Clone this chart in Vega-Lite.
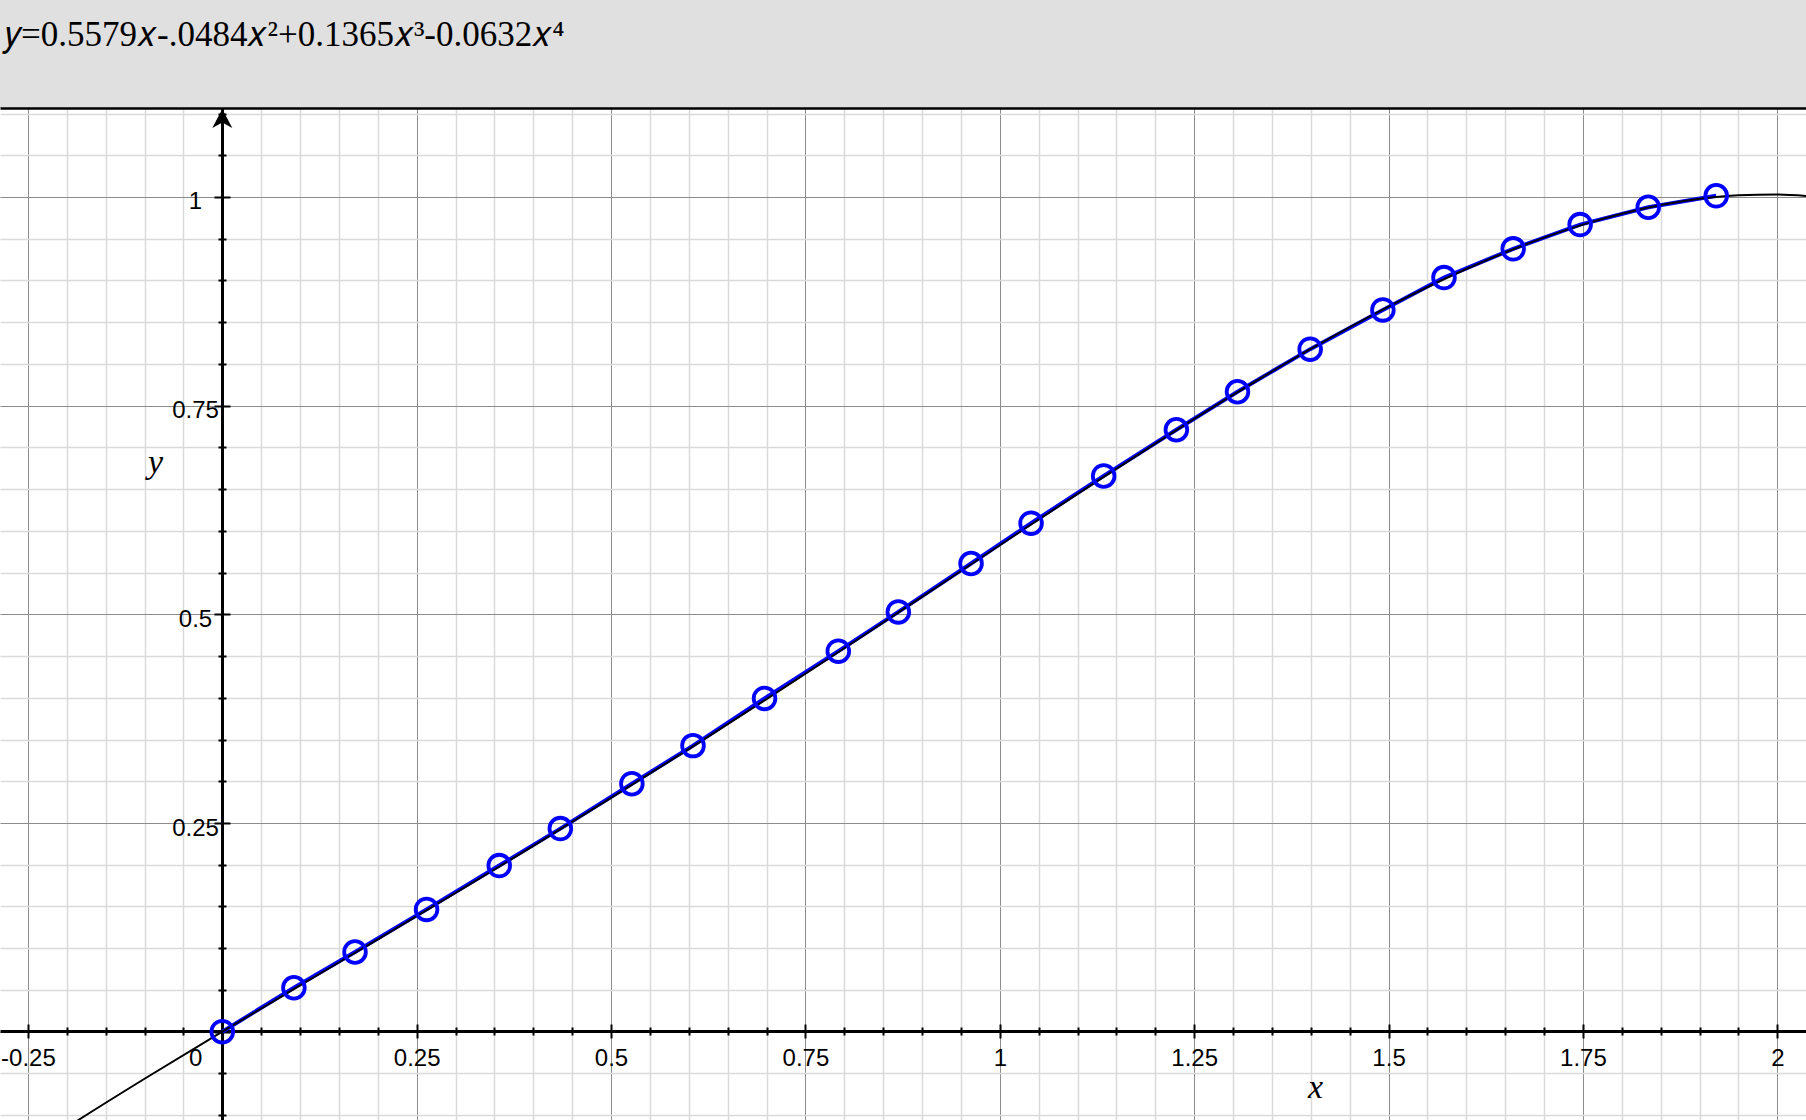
{
  "$schema": "https://vega.github.io/schema/vega-lite/v6.json",
  "width": 1806,
  "height": 1012,
  "autosize": "none",
  "padding": {"left": 0, "right": 0, "top": 108, "bottom": 0},
  "background": "#e0e0e0",
  "config": {"view": {"stroke": null, "fill": "white"}},
  "title": {
    "text": "𝑦=0.5579𝑥-.0484𝑥²+0.1365𝑥³-0.0632𝑥⁴",
    "anchor": "start",
    "frame": "group",
    "font": "Liberation Serif",
    "fontSize": 35,
    "fontWeight": "normal",
    "color": "black",
    "baseline": "alphabetic",
    "offset": 26,
    "dx": 5
  },
  "datasets": {
    "curve": [
      {"x": -0.3, "y": -0.1759}, {"x": -0.2, "y": -0.1147}, {"x": -0.1, "y": -0.0564},
      {"x": 0, "y": 0}, {"x": 0.1, "y": 0.0554}, {"x": 0.2, "y": 0.1106},
      {"x": 0.3, "y": 0.1662}, {"x": 0.4, "y": 0.2225}, {"x": 0.5, "y": 0.28},
      {"x": 0.6, "y": 0.3386}, {"x": 0.7, "y": 0.3985}, {"x": 0.8, "y": 0.4594},
      {"x": 0.9, "y": 0.521}, {"x": 1.0, "y": 0.5828}, {"x": 1.1, "y": 0.6443},
      {"x": 1.2, "y": 0.7046}, {"x": 1.3, "y": 0.7629}, {"x": 1.4, "y": 0.818},
      {"x": 1.5, "y": 0.8687}, {"x": 1.6, "y": 0.9137}, {"x": 1.7, "y": 0.9513},
      {"x": 1.75, "y": 0.9669}, {"x": 1.8, "y": 0.98}, {"x": 1.85, "y": 0.9904},
      {"x": 1.9, "y": 0.9979}, {"x": 1.95, "y": 1.0022}, {"x": 2.0, "y": 1.003},
      {"x": 2.05, "y": 1.0001}
    ],
    "pts": [
      {"x": 0, "y": 0}, {"x": 0.0921, "y": 0.0527}, {"x": 0.1707, "y": 0.0955},
      {"x": 0.2627, "y": 0.1465}, {"x": 0.3562, "y": 0.199}, {"x": 0.4348, "y": 0.2433},
      {"x": 0.5268, "y": 0.2971}, {"x": 0.6054, "y": 0.3427}, {"x": 0.6974, "y": 0.3993},
      {"x": 0.7923, "y": 0.4559}, {"x": 0.8695, "y": 0.5029}, {"x": 0.963, "y": 0.5609},
      {"x": 1.0402, "y": 0.6092}, {"x": 1.1336, "y": 0.6658}, {"x": 1.2271, "y": 0.7211},
      {"x": 1.3057, "y": 0.7667}, {"x": 1.3992, "y": 0.8177}, {"x": 1.4927, "y": 0.8647},
      {"x": 1.5713, "y": 0.9034}, {"x": 1.6603, "y": 0.9379}, {"x": 1.7464, "y": 0.9669},
      {"x": 1.834, "y": 0.9877}, {"x": 1.9214, "y": 1.0014}
    ],
    "arrow": [{"x": 0, "y": 1.0934}]
  },
  "resolve": {"axis": {"x": "independent", "y": "independent"}},
  "layer": [
    {
      "data": {"name": "pts"},
      "mark": {"type": "line", "color": "#0000ff", "strokeWidth": 4, "clip": true},
      "encoding": {
        "x": {
          "field": "x", "type": "quantitative",
          "scale": {"domain": [-0.2859, 2.0369], "nice": false, "zero": false},
          "axis": {
            "orient": "bottom",
            "offset": -89,
            "values": [-0.25,-0.2,-0.15,-0.1,-0.05,0,0.05,0.1,0.15,0.2,0.25,0.3,0.35,0.4,0.45,0.5,0.55,0.6,0.65,0.7,0.75,0.8,0.85,0.9,0.95,1,1.05,1.1,1.15,1.2,1.25,1.3,1.35,1.4,1.45,1.5,1.55,1.6,1.65,1.7,1.75,1.8,1.85,1.9,1.95,2],
            "domain": true, "domainColor": "black", "domainWidth": 3,
            "ticks": true, "tickColor": "black", "tickWidth": 2, "tickSize": 7,
            "labels": true,
            "labelExpr": "abs(datum.value*4-round(datum.value*4))<0.001 ? datum.value + '' : ''",
            "labelFont": "Liberation Sans", "labelFontSize": 24, "labelColor": "black",
            "labelPadding": 8, "labelOverlap": false, "labelFlush": false, "labelBound": false,
            "grid": true,
            "gridColor": {"condition": {"test": "abs(datum.value*4-round(datum.value*4))<0.001", "value": "#8c8c8c"}, "value": "#dadada"},
            "gridWidth": {"condition": {"test": "abs(datum.value*4-round(datum.value*4))<0.001", "value": 1}, "value": 1.5},
            "title": "x",
            "titleFont": "Liberation Serif", "titleFontStyle": "italic", "titleFontWeight": "normal",
            "titleFontSize": 34, "titleColor": "black",
            "titleX": 1315, "titleY": 66, "titleAlign": "center", "titleBaseline": "alphabetic", "titleAngle": 0,
            "encoding": {
              "ticks": {
                "y": {"condition": {"test": "abs(datum.value*4-round(datum.value*4))<0.001", "value": -7}, "value": -4},
                "y2": {"condition": {"test": "abs(datum.value*4-round(datum.value*4))<0.001", "value": 7}, "value": 4}
              },
              "labels": {
                "dx": {"condition": {"test": "datum.value == 0", "value": -27}, "value": 0}
              }
            }
          }
        },
        "y": {
          "field": "y", "type": "quantitative",
          "scale": {"domain": [-0.1058, 1.1066], "nice": false, "zero": false},
          "axis": null
        }
      }
    },
    {
      "data": {"name": "curve"},
      "mark": {"type": "line", "color": "black", "strokeWidth": 2, "interpolate": "monotone", "clip": true},
      "encoding": {
        "x": {"field": "x", "type": "quantitative", "scale": {"domain": [-0.2859, 2.0369], "nice": false, "zero": false}, "axis": null},
        "y": {
          "field": "y", "type": "quantitative",
          "scale": {"domain": [-0.1058, 1.1066], "nice": false, "zero": false},
          "axis": {
            "orient": "left",
            "offset": -222,
            "values": [-0.1,-0.05,0,0.05,0.1,0.15,0.2,0.25,0.3,0.35,0.4,0.45,0.5,0.55,0.6,0.65,0.7,0.75,0.8,0.85,0.9,0.95,1,1.05,1.1],
            "domain": true, "domainColor": "black", "domainWidth": 3,
            "ticks": true, "tickColor": "black", "tickWidth": 2, "tickSize": 8,
            "labels": true,
            "labelExpr": "(abs(datum.value*4-round(datum.value*4))<0.001) ? (datum.value == 0 ? '' : datum.value + '') : ''",
            "labelFont": "Liberation Sans", "labelFontSize": 24, "labelColor": "black",
            "labelPadding": 19, "labelAlign": "center", "labelBaseline": "middle",
            "labelOverlap": false, "labelFlush": false, "labelBound": false,
            "grid": true,
            "gridColor": {"condition": {"test": "abs(datum.value*4-round(datum.value*4))<0.001", "value": "#8c8c8c"}, "value": "#dadada"},
            "gridWidth": {"condition": {"test": "abs(datum.value*4-round(datum.value*4))<0.001", "value": 1}, "value": 1.5},
            "title": "y",
            "titleFont": "Liberation Serif", "titleFontStyle": "italic", "titleFontWeight": "normal",
            "titleFontSize": 34, "titleColor": "black",
            "titleX": -67, "titleY": 364, "titleAlign": "center", "titleBaseline": "alphabetic", "titleAngle": 0,
            "encoding": {
              "ticks": {
                "x": {"condition": {"test": "abs(datum.value*4-round(datum.value*4))<0.001", "value": 8}, "value": 4},
                "x2": {"condition": {"test": "abs(datum.value*4-round(datum.value*4))<0.001", "value": -8}, "value": -4}
              },
              "labels": {
                "dy": {"value": 5}
              }
            }
          }
        }
      }
    },
    {
      "data": {"name": "pts"},
      "mark": {"type": "point", "shape": "circle", "filled": false, "color": "#0000ff", "strokeWidth": 3.8, "size": 470, "opacity": 1},
      "encoding": {
        "x": {
          "field": "x", "type": "quantitative",
          "scale": {"domain": [-0.2859, 2.0369], "nice": false, "zero": false},
          "axis": {"orient": "top", "offset": 0, "domain": true, "domainColor": "black", "domainWidth": 2.5,
                   "ticks": false, "labels": false, "grid": false, "title": null, "zindex": 1}
        },
        "y": {"field": "y", "type": "quantitative", "scale": {"domain": [-0.1058, 1.1066], "nice": false, "zero": false}, "axis": null}
      }
    },
    {
      "data": {"name": "arrow"},
      "mark": {"type": "point", "shape": "M0,-1L1,0.9L0,0.35L-1,0.9Z", "filled": true, "color": "black", "size": 400, "opacity": 1},
      "encoding": {
        "x": {"field": "x", "type": "quantitative", "scale": {"domain": [-0.2859, 2.0369], "nice": false, "zero": false}, "axis": null},
        "y": {"field": "y", "type": "quantitative", "scale": {"domain": [-0.1058, 1.1066], "nice": false, "zero": false}, "axis": null}
      }
    }
  ]
}
